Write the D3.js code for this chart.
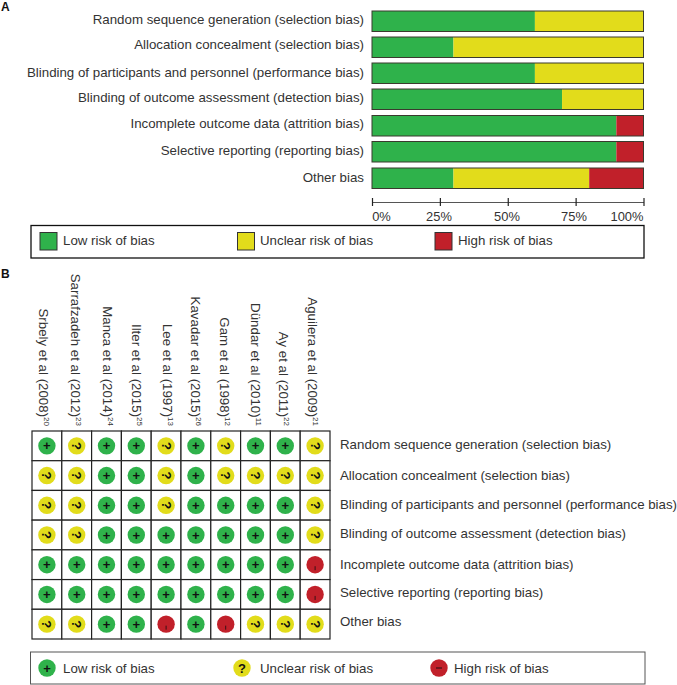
<!DOCTYPE html>
<html><head><meta charset="utf-8">
<script src="https://cdn.jsdelivr.net/npm/d3@7/dist/d3.min.js"></script>
<style>html,body{margin:0;padding:0;background:#fff}svg{display:block}text{font-family:"Liberation Sans",Arial,sans-serif;fill:#333}</style>
</head><body><svg id="c" width="677" height="685"></svg>
<script>
const domains=["Random sequence generation (selection bias)","Allocation concealment (selection bias)","Blinding of participants and personnel (performance bias)","Blinding of outcome assessment (detection bias)","Incomplete outcome data (attrition bias)","Selective reporting (reporting bias)","Other bias"];
const lowPct=[60,30,60,70,90,90,30];
const unclearPct=[40,70,40,30,0,0,50];
const highPct=[0,0,0,0,10,10,20];
const ticks=[0,25,50,75,100];
const riskNames=["Low risk of bias","Unclear risk of bias","High risk of bias"];
const studies=["Srbely et al (2008)","Sarrafzadeh et al (2012)","Manca et al (2014)","Ilter et al (2015)","Lee et al (1997)","Kavadar et al (2015)","Gam et al (1998)","Dündar et al (2010)","Ay et al (2011)","Aguilera et al (2009)"];
const refs=["20","23","24","25","13","26","12","11","22","21"];
const judgements=["+?++?+?++?","??++?+????","??++?++++?","??+++++++?","+++++++++-","+++++++++-","??++-+-???"];
const colors={low:"#2fb24b",unclear:"#e2dc1b",high:"#c1202a"};

const svg=d3.select("#c");
const fs=13.3;
const x=d3.scaleLinear().domain([0,100]).range([372,643.5]);
const yTops=[11,37,63,89,115.5,141.5,168];
const barH=20.5;
svg.append("text").text("A").attr("x",1).attr("y",11).attr("font-size",12).attr("font-weight","bold").style("fill","#111");
svg.append("text").text("B").attr("x",1).attr("y",278).attr("font-size",12).attr("font-weight","bold").style("fill","#111");
const aLabY=[24,48.5,77,102,128,154.5,181.5];
domains.forEach((d,i)=>{
  const g=svg.append("g");
  g.append("text").text(d).attr("x",364).attr("y",aLabY[i]).attr("text-anchor","end").attr("font-size",fs);
  let acc=0;
  [[lowPct[i],colors.low],[unclearPct[i],colors.unclear],[highPct[i],colors.high]].forEach(([v,c])=>{
    if(v>0)g.append("rect").attr("x",x(acc)).attr("y",yTops[i]).attr("width",x(acc+v)-x(acc)).attr("height",barH).attr("fill",c);
    acc+=v;
  });
  g.append("rect").attr("x",x(0)).attr("y",yTops[i]).attr("width",x(100)-x(0)).attr("height",barH).attr("fill","none").attr("stroke","#3a3a2e").attr("stroke-width",1);
});
const axis=d3.axisBottom(x).tickValues(ticks).tickSize(0).tickFormat(()=>"");
const ax=svg.append("g").attr("transform","translate(0,202)").call(axis);
ax.select(".domain").attr("stroke","#555").attr("stroke-width",1.2);
ax.selectAll(".tick line").attr("y1",-4).attr("y2",4).attr("stroke","#222").attr("stroke-width",1.2);
const tickLab=[381.5,439,507,574,627];
ticks.forEach((t,i)=>svg.append("text").text(t+"%").attr("x",tickLab[i]).attr("y",220.5).attr("text-anchor","middle").attr("font-size",12.9));

svg.append("rect").attr("x",31).attr("y",225.5).attr("width",613).attr("height",32.5).attr("fill","#fff").attr("stroke","#111").attr("stroke-width",1.3);
[[40,63,colors.low],[237.5,260,colors.unclear],[435,458,colors.high]].forEach(([sx,tx,c],i)=>{
  svg.append("rect").attr("x",sx).attr("y",232.5).attr("width",17).attr("height",17.5).attr("fill",c).attr("stroke","#333").attr("stroke-width",1);
  svg.append("text").text(riskNames[i]).attr("x",tx).attr("y",244.5).attr("font-size",fs);
});

// Panel B
const gx=d3.scaleBand().domain(d3.range(studies.length)).range([32,330]);
const gy=d3.scaleBand().domain(d3.range(domains.length)).range([431,639]);
const labX=[43,75,107,136,167,195,224,255,283,312];
studies.forEach((s,i)=>{
  const t=svg.append("text").attr("transform",`translate(${labX[i]-4},426) rotate(90)`).attr("text-anchor","end").attr("font-size",fs);
  t.append("tspan").text(s);
  t.append("tspan").text(refs[i]).attr("font-size",8).attr("dy",-4.5);
});
const rc=8.7;
function marker(g,cx,cy,kind,rotated){
  const c=kind==="+"?colors.low:kind==="?"?colors.unclear:colors.high;
  g.append("circle").attr("cx",cx).attr("cy",cy).attr("r",rc).attr("fill",c);
  if(kind==="+"){
    g.append("text").text("+").attr("x",cx).attr("y",cy+4.5).attr("text-anchor","middle").attr("font-size",13).attr("font-weight","bold").style("fill","#111");
  }else if(kind==="?"){
    g.append("text").text("?").attr("transform",`translate(${cx},${cy}) rotate(${rotated?90:0})`).attr("y",4.5).attr("text-anchor","middle").attr("font-size",13).attr("font-weight","bold").style("fill","#111");
  }else if(rotated){
    g.append("line").attr("x1",cx).attr("x2",cx).attr("y1",cy+1.5).attr("y2",cy+5.5).attr("stroke","#3a1015").attr("stroke-width",1);
  }else{
    g.append("line").attr("x1",cx-3).attr("x2",cx+3).attr("y1",cy).attr("y2",cy).attr("stroke","#3a1015").attr("stroke-width",1.2);
  }
}
judgements.forEach((row,r)=>{
  row.split("").forEach((k,c)=>{
    const cx=gx(c)+gx.bandwidth()/2, cy=gy(r)+gy.bandwidth()/2;
    svg.append("rect").attr("x",gx(c)).attr("y",gy(r)).attr("width",gx.bandwidth()).attr("height",gy.bandwidth()).attr("fill","#fff").attr("stroke","#222").attr("stroke-width",1.2);
    marker(svg.append("g"),cx,cy,k,true);
  });
});
const bLabY=[449,480,509,538,569,597,626];
domains.forEach((d,i)=>svg.append("text").text(d).attr("x",340).attr("y",bLabY[i]).attr("font-size",fs));

svg.append("rect").attr("x",30.5).attr("y",652).attr("width",614.5).attr("height",32).attr("fill","#fff").attr("stroke","#555").attr("stroke-width",1);
[[47,63,"+"],[242,260,"?"],[439,454,"-"]].forEach(([cx,tx,k],i)=>{
  marker(svg.append("g"),cx,668,k,false);
  svg.append("text").text(riskNames[i]).attr("x",tx).attr("y",672.5).attr("font-size",fs);
});
</script></body></html>
